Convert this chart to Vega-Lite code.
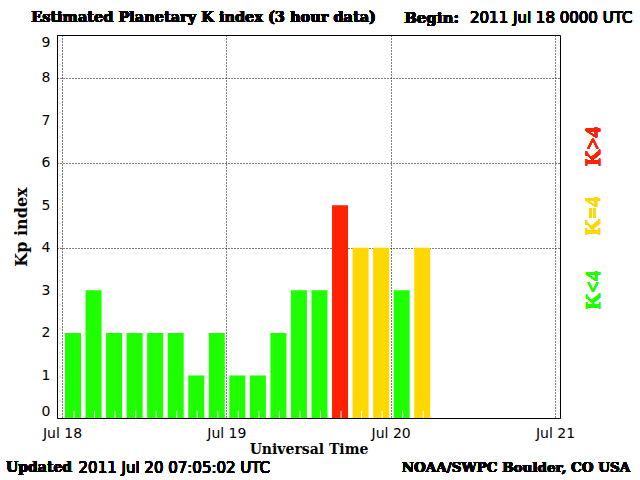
{
  "$schema": "https://vega.github.io/schema/vega-lite/v6.json",
  "width": 503,
  "height": 383,
  "autosize": "none",
  "padding": {"left": 57, "top": 35, "right": 80, "bottom": 62},
  "background": "white",
  "config": {
    "view": {"stroke": "black", "strokeWidth": 1},
    "axis": {"domainColor": "black", "labelColor": "black", "titleColor": "black", "ticks": false}
  },
  "data": {
    "values": [
      {"time": "2011-07-18T00:00:00Z", "kp": 2},
      {"time": "2011-07-18T03:00:00Z", "kp": 3},
      {"time": "2011-07-18T06:00:00Z", "kp": 2},
      {"time": "2011-07-18T09:00:00Z", "kp": 2},
      {"time": "2011-07-18T12:00:00Z", "kp": 2},
      {"time": "2011-07-18T15:00:00Z", "kp": 2},
      {"time": "2011-07-18T18:00:00Z", "kp": 1},
      {"time": "2011-07-18T21:00:00Z", "kp": 2},
      {"time": "2011-07-19T00:00:00Z", "kp": 1},
      {"time": "2011-07-19T03:00:00Z", "kp": 1},
      {"time": "2011-07-19T06:00:00Z", "kp": 2},
      {"time": "2011-07-19T09:00:00Z", "kp": 3},
      {"time": "2011-07-19T12:00:00Z", "kp": 3},
      {"time": "2011-07-19T15:00:00Z", "kp": 5},
      {"time": "2011-07-19T18:00:00Z", "kp": 4},
      {"time": "2011-07-19T21:00:00Z", "kp": 4},
      {"time": "2011-07-20T00:00:00Z", "kp": 3},
      {"time": "2011-07-20T03:00:00Z", "kp": 4}
    ]
  },
  "layer": [
    {
      "mark": {"type": "bar", "width": 16, "xOffset": 11},
      "encoding": {
        "x": {
          "field": "time",
          "type": "temporal",
          "scale": {
            "type": "utc",
            "domain": [
              {"year": 2011, "month": 7, "date": 18, "utc": true},
              {"year": 2011, "month": 7, "date": 21, "utc": true}
            ]
          },
          "axis": {
            "title": "Universal Time",
            "titleFont": "DejaVu Serif",
            "titleFontWeight": "bold",
            "titleFontSize": 14,
            "titlePadding": 2,
            "format": "%b %d",
            "values": [
              {"year": 2011, "month": 7, "date": 18, "utc": true},
              {"year": 2011, "month": 7, "date": 19, "utc": true},
              {"year": 2011, "month": 7, "date": 20, "utc": true},
              {"year": 2011, "month": 7, "date": 21, "utc": true}
            ],
            "labelFont": "DejaVu Sans",
            "labelFontSize": 14,
            "labelPadding": 8,
            "labelFlush": false,
            "grid": true,
            "gridColor": "black",
            "gridDash": [1, 2],
            "gridOpacity": 1
          }
        },
        "y": {
          "field": "kp",
          "type": "quantitative",
          "scale": {"domain": [0, 9], "nice": false},
          "axis": {
            "title": "Kp index",
            "titleFont": "DejaVu Serif",
            "titleFontWeight": "bold",
            "titleFontSize": 16,
            "titlePadding": 12,
            "values": [0, 1, 2, 3, 4, 5, 6, 7, 8, 9],
            "labelFont": "DejaVu Sans",
            "labelFontSize": 14,
            "labelPadding": 7,
            "labelFlush": true,
            "labelFlushOffset": 0,
            "grid": true,
            "gridColor": "black",
            "gridDash": [1, 2],
            "gridOpacity": {"condition": {"test": "datum.value == 4 || datum.value == 6 || datum.value == 8", "value": 1}, "value": 0}
          }
        },
        "color": {
          "condition": [
            {"test": "datum.kp > 4", "value": "#ff2200"},
            {"test": "datum.kp == 4", "value": "#ffd800"}
          ],
          "value": "#1eff00"
        }
      }
    },
    {
      "mark": {"type": "rule", "color": "white", "strokeWidth": 1, "xOffset": 12},
      "encoding": {
        "x": {"field": "time", "type": "temporal"},
        "y": {"datum": 0},
        "y2": {"datum": 0.17}
      }
    },
    {
      "mark": {"type": "text", "text": "Estimated Planetary K index (3 hour data)", "align": "left", "baseline": "middle", "font": "DejaVu Serif", "fontWeight": "bold", "fontSize": 14.5, "color": "black"},
      "encoding": {
        "x": {"datum": {"year": 2011, "month": 7, "date": 17, "hours": 19, "minutes": 30, "utc": true}, "type": "temporal"},
        "y": {"datum": 9.41}
      }
    },
    {
      "mark": {"type": "text", "text": "Begin:", "align": "left", "baseline": "middle", "font": "DejaVu Serif", "fontWeight": "bold", "fontSize": 15, "color": "black"},
      "encoding": {
        "x": {"datum": {"year": 2011, "month": 7, "date": 20, "hours": 1, "minutes": 58, "utc": true}, "type": "temporal"},
        "y": {"datum": 9.41}
      }
    },
    {
      "mark": {"type": "text", "text": "2011 Jul 18 0000 UTC", "align": "right", "baseline": "middle", "font": "DejaVu Sans", "fontSize": 15, "color": "black"},
      "encoding": {
        "x": {"datum": {"year": 2011, "month": 7, "date": 21, "hours": 11, "minutes": 18, "utc": true}, "type": "temporal"},
        "y": {"datum": 9.41}
      }
    },
    {
      "mark": {"type": "text", "text": "Updated", "align": "left", "baseline": "middle", "font": "DejaVu Serif", "fontWeight": "bold", "fontSize": 14, "color": "black"},
      "encoding": {
        "x": {"datum": {"year": 2011, "month": 7, "date": 17, "hours": 15, "minutes": 50, "utc": true}, "type": "temporal"},
        "y": {"datum": -1.18}
      }
    },
    {
      "mark": {"type": "text", "text": "2011 Jul 20 07:05:02 UTC", "align": "left", "baseline": "middle", "font": "DejaVu Sans", "fontSize": 15, "color": "black"},
      "encoding": {
        "x": {"datum": {"year": 2011, "month": 7, "date": 18, "hours": 2, "minutes": 25, "utc": true}, "type": "temporal"},
        "y": {"datum": -1.18}
      }
    },
    {
      "mark": {"type": "text", "text": "NOAA/SWPC Boulder, CO USA", "align": "right", "baseline": "middle", "font": "DejaVu Serif", "fontWeight": "bold", "fontSize": 13.5, "color": "black"},
      "encoding": {
        "x": {"datum": {"year": 2011, "month": 7, "date": 21, "hours": 11, "minutes": 0, "utc": true}, "type": "temporal"},
        "y": {"datum": -1.18}
      }
    },
    {
      "mark": {"type": "text", "text": "K<4", "angle": 270, "align": "center", "baseline": "middle", "font": "Liberation Serif", "fontWeight": "bold", "fontSize": 21, "color": "#1eff00"},
      "encoding": {
        "x": {"datum": {"year": 2011, "month": 7, "date": 21, "hours": 5, "minutes": 43, "utc": true}, "type": "temporal"},
        "y": {"datum": 3.01}
      }
    },
    {
      "mark": {"type": "text", "text": "K=4", "angle": 270, "align": "center", "baseline": "middle", "font": "Liberation Serif", "fontWeight": "bold", "fontSize": 21, "color": "#ffd800"},
      "encoding": {
        "x": {"datum": {"year": 2011, "month": 7, "date": 21, "hours": 5, "minutes": 43, "utc": true}, "type": "temporal"},
        "y": {"datum": 4.75}
      }
    },
    {
      "mark": {"type": "text", "text": "K>4", "angle": 270, "align": "center", "baseline": "middle", "font": "Liberation Serif", "fontWeight": "bold", "fontSize": 21, "color": "#ff2200"},
      "encoding": {
        "x": {"datum": {"year": 2011, "month": 7, "date": 21, "hours": 5, "minutes": 43, "utc": true}, "type": "temporal"},
        "y": {"datum": 6.38}
      }
    }
  ]
}
